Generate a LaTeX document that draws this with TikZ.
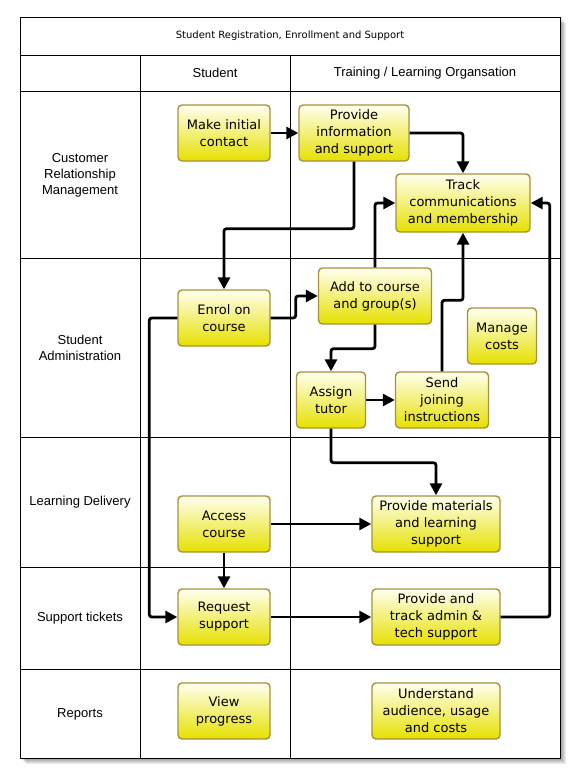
\documentclass[tikz,border=0pt]{standalone}
\usepackage{fontspec}
\setmainfont{DejaVu Sans}
\newfontfamily\lanefont{Liberation Sans}
\usetikzlibrary{arrows.meta}

\definecolor{taskline}{HTML}{A6923A}
\definecolor{tasktop}{HTML}{FFFFF0}
\definecolor{taskbottom}{HTML}{E6E000}

\tikzset{
  task/.style={draw=taskline, line width=1.4pt, rounded corners=4pt,
    top color=tasktop, bottom color=taskbottom, align=center,
    inner sep=0pt, minimum height=56pt, font=\fontsize{13}{17}\selectfont},
  flow/.style={line width=2.8pt, rounded corners=2.5pt,
    -{Triangle[length=12pt,width=12pt]}},
  lane/.style={font=\lanefont\fontsize{13}{16}\selectfont, align=center},
  laneline/.style={line width=0.9pt}
}

\begin{document}
\begin{tikzpicture}[x=1pt, y=-1pt]
	\useasboundingbox (0,0) rectangle (579,782);
	% frame with shadow
	\foreach \s in {1,...,6}
		\fill[black, opacity=0.08] (20+\s,17+\s) rectangle (560+\s,758+\s);
	\fill[white] (20,17) rectangle (560,758);
	\draw[laneline] (20,17) rectangle (560,758);
	\foreach \y in {55,91,258,437,567,669}
		\draw[laneline] (20,\y) -- (560,\y);
	\draw[laneline] (140,55) -- (140,758);
	\draw[laneline] (290,55) -- (290,758);
	% headings
	\node[font=\fontsize{10}{12}\selectfont] (title) at (290,36) {Student Registration, Enrollment and Support};
	\node[lane] (student) at (215,73) {Student};
	\node[lane] (organisation) at (425,73) {Training / Learning Organsation};
	\node[lane] (crm) at (80,175) {Customer\\Relationship\\Management};
	\node[lane] (admin lane) at (80,348) {Student\\Administration};
	\node[lane] (delivery) at (80,502) {Learning Delivery};
	\node[lane] (tickets) at (80,618) {Support tickets};
	\node[lane] (reports) at (80,714) {Reports};
	% tasks
	\node[task, minimum width=92pt] (contact) at (224,133) {Make initial\\contact};
	\node[task, minimum width=110pt] (info) at (354,133) {Provide\\information\\and support};
	\node[task, minimum width=134pt, minimum height=58pt] (track) at (463,203) {Track\\communications\\and membership};
	\node[task, minimum width=92pt] (enrol) at (224,318) {Enrol on\\course};
	\node[task, minimum width=113pt] (add) at (375,296) {Add to course\\and group(s)};
	\node[task, minimum width=69pt] (costs) at (502,336) {Manage\\costs};
	\node[task, minimum width=69pt] (tutor) at (331,400) {Assign\\tutor};
	\node[task, minimum width=93pt] (joining) at (442,400) {Send\\joining\\instructions};
	\node[task, minimum width=92pt] (access) at (224,524) {Access\\course};
	\node[task, minimum width=128pt] (materials) at (436,524) {Provide materials\\and learning\\support};
	\node[task, minimum width=92pt] (request) at (224,617) {Request\\support};
	\node[task, minimum width=128pt] (support) at (436,617) {Provide and\\track admin \&\\tech support};
	\node[task, minimum width=92pt] (progress) at (224,711) {View\\progress};
	\node[task, minimum width=128pt] (audience) at (436,711) {Understand\\audience, usage\\and costs};
	% flows
	\draw[flow] (contact) -- (info);
	\draw[flow] (info) -| (track);
	\draw[flow] (info.south) --++(0,67) -| (enrol.north);
	\draw[flow] (enrol.east) --++(25,0) |- (add.west);
	\draw[flow] (add.north) |- (track.west);
	\draw[flow] (add.south) --++(0,24) -| (tutor.north);
	\draw[flow] (tutor) -- (joining);
	\draw[flow] (joining.north) --++(0,-71) -| (track.south);
	\draw[flow] (tutor.south) --++(0,34) -| (materials.north);
	\draw[flow] (access) -- (materials);
	\draw[flow] (access) -- (request);
	\draw[flow] (enrol.west) --++(-28,0) |- (request.west);
	\draw[flow] (request) -- (support);
	\draw[flow] (support.east) --++(49,0) |- (track.east);
\end{tikzpicture}
\end{document}
